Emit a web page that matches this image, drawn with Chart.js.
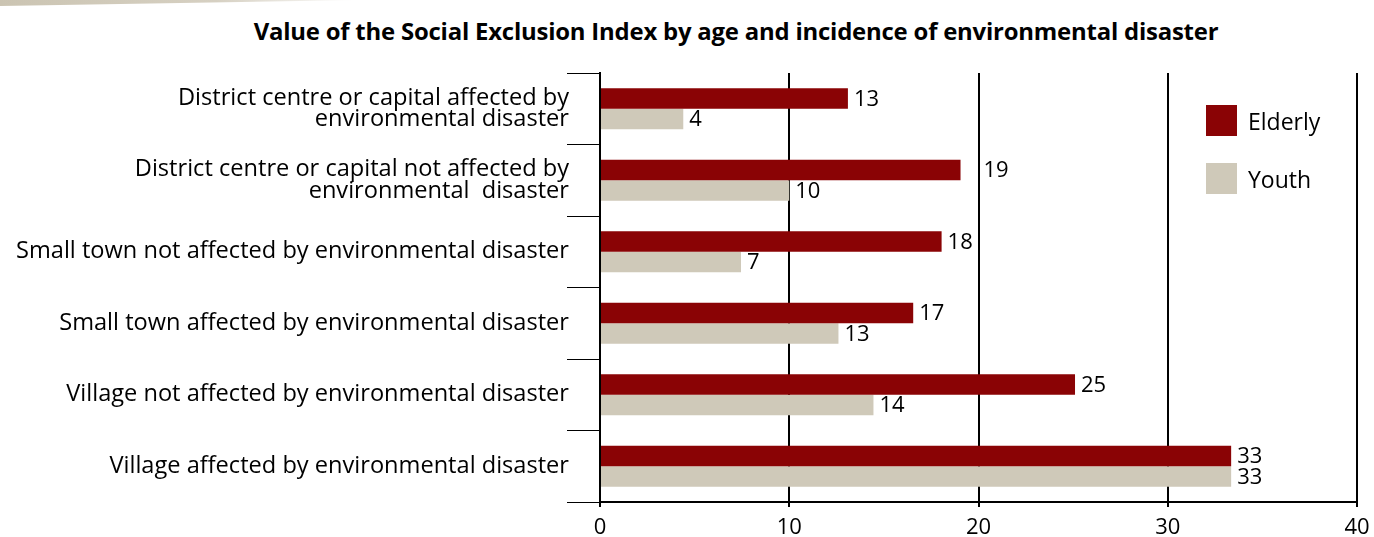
<!DOCTYPE html>
<html>
<head>
<meta charset="utf-8">
<title>Social Exclusion Index</title>
<script src="https://cdn.jsdelivr.net/npm/chart.js@4.4.1/dist/chart.umd.min.js"></script>
<style>
    html, body { margin: 0; padding: 0; background: #fff; }
    #wrap { position: relative; width: 1374px; height: 537px; }
    #deco {
        position: absolute; left: 0; top: 0; width: 360px; height: 6px;
        background: linear-gradient(to right, #cbc4b2 0%, #d6d0c2 60%, rgba(255,255,255,0) 100%);
        clip-path: polygon(0 0, 100% 0, 0 100%);
    }
    #title {
        position: absolute; left: 186px; top: 14px; width: 1100px;
        text-align: center; font: bold 23.9px "Open Sans", sans-serif; color: #000;
        letter-spacing: -0.2px;
    }
    #legend { position: absolute; left: 1206px; top: 105px; font: 23px "Open Sans", sans-serif; }
    #legend .item { display: flex; align-items: center; height: 31px; margin-bottom: 27px; }
    #legend .box { width: 31px; height: 31px; margin-right: 11px; }
    canvas { position: absolute; left: 0; top: 0; }
</style>
</head>
<body>
<div id="wrap">
    <div id="deco"></div>
    <div id="title">Value of the Social Exclusion Index by age and incidence of environmental disaster</div>
    <canvas id="chart" width="1374" height="537"></canvas>
    <div id="legend"></div>
</div>

<script>
// -----------------------------------------------------------------------------
// Data
// -----------------------------------------------------------------------------
const categories = [
    ['District centre or capital affected by', 'environmental disaster'],
    ['District centre or capital not affected by', 'environmental  disaster'],
    'Small town not affected by environmental disaster',
    'Small town affected by environmental disaster',
    'Village not affected by environmental disaster',
    'Village affected by environmental disaster'
];
const seriesNames = ['Elderly', 'Youth'];
const elderlyValues = [13.1, 19.05, 18.05, 16.55, 25.1, 33.35];
const youthValues = [4.4, 10.0, 7.45, 12.6, 14.45, 33.35];
const xTicks = [0, 10, 20, 30, 40];

const COLORS = ['#8a0305', '#cfc9b9'];
const FONT = '"Open Sans", sans-serif';

// value labels next to each bar end, nudged past a gridline when they would cross it
const valueLabels = {
    id: 'valueLabels',
    afterDatasetsDraw(chart) {
        const ctx = chart.ctx;
        const xScale = chart.scales.x;
        const gridX = xTicks.slice(1).map(v => xScale.getPixelForValue(v));
        ctx.save();
        ctx.font = '22px ' + FONT;
        ctx.fillStyle = '#000';
        ctx.textBaseline = 'middle';
        chart.data.datasets.forEach((ds, i) => {
            chart.getDatasetMeta(i).data.forEach((bar, j) => {
                const txt = String(Math.round(ds.data[j]));
                const w = ctx.measureText(txt).width;
                let x = bar.x + 6;
                gridX.forEach(gx => {
                    if (x < gx + 2 && x + w > gx - 2) x = gx + 5;
                });
                ctx.fillText(txt, x, bar.y + 1);
            });
        });
        ctx.restore();
    }
};

function buildLegend(chart) {
    const el = document.getElementById('legend');
    el.innerHTML = chart.data.datasets.map(ds => `
        <div class="item"><span class="box" style="background:${ds.backgroundColor}"></span>${ds.label}</div>
    `).join('');
}

const chart = new Chart(document.getElementById('chart'), {
    type: 'bar',
    data: {
        labels: categories,
        datasets: [
            { label: seriesNames[0], data: elderlyValues, backgroundColor: COLORS[0] },
            { label: seriesNames[1], data: youthValues, backgroundColor: COLORS[1] }
        ]
    },
    options: {
        indexAxis: 'y',
        responsive: false,
        animation: false,
        layout: { padding: { top: 73, right: 17, left: 0, bottom: 0 } },
        datasets: { bar: { categoryPercentage: 0.573, barPercentage: 1 } },
        plugins: {
            legend: { display: false },
            title: { display: false },
            tooltip: { enabled: false }
        },
        scales: {
            x: {
                min: 0, max: 40,
                afterBuildTicks: s => { s.ticks = xTicks.map(v => ({ value: v })); },
                grid: { color: '#000', lineWidth: 2, tickLength: 5 },
                border: { color: '#000', width: 2 },
                ticks: { color: '#000', font: { family: FONT, size: 22 }, padding: 8 },
                afterFit: s => {
                    s.height = 35;
                    s.paddingLeft = 0;
                    s.paddingRight = 0;
                }
            },
            y: {
                grid: { drawOnChartArea: false, color: '#000', lineWidth: 1, tickLength: 33 },
                border: { color: '#000', width: 2 },
                ticks: { color: '#000', font: { family: FONT, size: 23.6, lineHeight: 0.92 }, padding: -2 },
                afterFit: s => {
                    s.width = 600;
                    s.paddingTop = 0;
                    s.paddingBottom = 0;
                }
            }
        }
    },
    plugins: [valueLabels]
});

buildLegend(chart);
</script>
</body>
</html>
